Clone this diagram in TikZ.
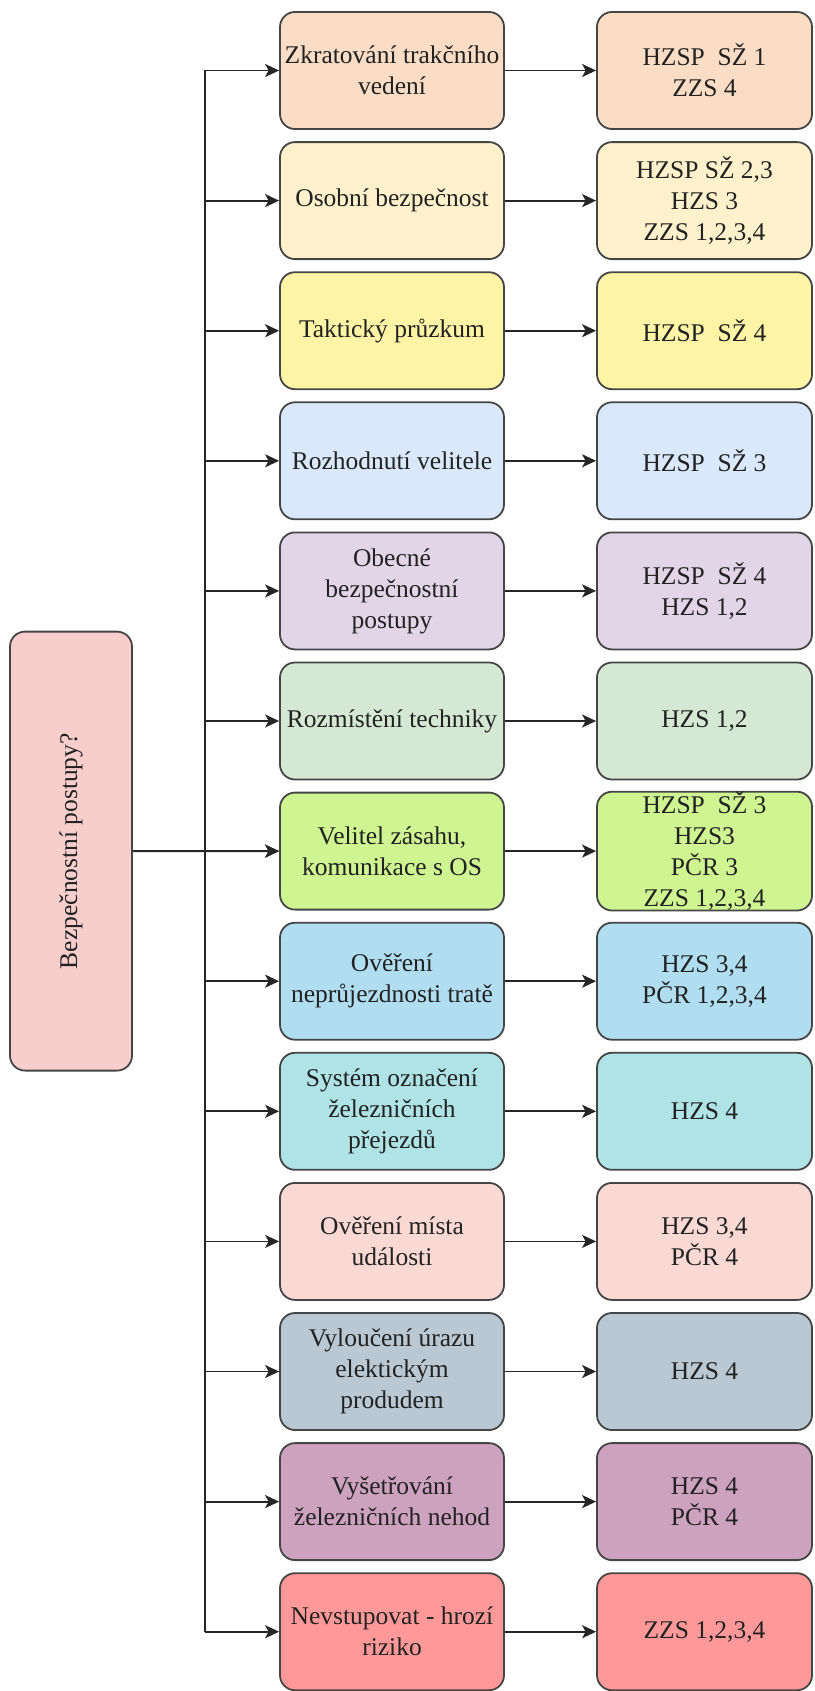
\documentclass[tikz,border=0pt]{standalone}
\usepackage{fontspec}
\setmainfont{Liberation Serif}
\usetikzlibrary{arrows.meta}
\definecolor{c1}{HTML}{FBDCC4}
\definecolor{c2}{HTML}{FFF1CC}
\definecolor{c3}{HTML}{FDF4A6}
\definecolor{c4}{HTML}{DAE8FC}
\definecolor{c5}{HTML}{E1D5E7}
\definecolor{c6}{HTML}{D5E8D4}
\definecolor{c7}{HTML}{CFF593}
\definecolor{c8}{HTML}{B1DDF0}
\definecolor{c9}{HTML}{B0E3E6}
\definecolor{c10}{HTML}{FAD9D5}
\definecolor{c11}{HTML}{BAC8D3}
\definecolor{c12}{HTML}{CDA2BE}
\definecolor{c13}{HTML}{FF9999}
\definecolor{cl}{HTML}{F8CECC}
\definecolor{bord}{HTML}{454545}
\definecolor{txt}{HTML}{222222}
\tikzset{
  box/.style={draw=bord, line width=1.8pt, rounded corners=15pt, inner sep=0pt,
    align=center, text=txt, font=\fontsize{25.5}{31}\selectfont},
  midbox/.style={box, minimum width=224pt, minimum height=117pt},
  rightbox/.style={box, minimum width=215pt, minimum height=117pt},
  conn/.style={line width=1.8pt, draw=black!85},
  arr/.style={conn, -{Stealth[length=14pt, width=13pt, inset=3.5pt]}},
}
\begin{document}
\begin{tikzpicture}[x=1pt, y=-1pt]
\useasboundingbox (0,0) rectangle (814,1691);
\foreach \i/\mt/\rt in {
 1/{Zkratování trakčního\\vedení}/{HZSP\ \ SŽ 1\\ZZS 4},
 2/{Osobní bezpečnost}/{HZSP SŽ 2,3\\HZS 3\\ZZS 1,2,3,4},
 3/{Taktický průzkum}/{HZSP\ \ SŽ 4},
 4/{Rozhodnutí velitele}/{HZSP\ \ SŽ 3},
 5/{Obecné\\bezpečnostní\\postupy}/{HZSP\ \ SŽ 4\\HZS 1,2},
 6/{Rozmístění techniky}/{HZS 1,2},
 7/{Velitel zásahu,\\komunikace s OS}/{HZSP\ \ SŽ 3\\HZS3\\PČR 3\\ZZS 1,2,3,4},
 8/{Ověření\\neprůjezdnosti tratě}/{HZS 3,4\\PČR 1,2,3,4},
 9/{Systém označení\\železničních\\přejezdů}/{HZS 4},
 10/{Ověření místa\\události}/{HZS 3,4\\PČR 4},
 11/{Vyloučení úrazu\\elektickým\\produdem}/{HZS 4},
 12/{Vyšetřování\\železničních nehod}/{HZS 4\\PČR 4},
 13/{Nevstupovat - hrozí\\riziko}/{ZZS 1,2,3,4}}{
  \pgfmathsetmacro{\yy}{70.5+130.1*(\i-1)}
  \node[midbox, fill=c\i] (m\i) at (392,\yy) {\mt};
  \node[rightbox, fill=c\i] (r\i) at (704.5,\yy) {\rt};
  \coordinate (b\i) at (205,\yy);
  \draw[arr] (b\i) -- (m\i.west);
  \draw[arr] (m\i.east) -- (r\i.west);
}
\draw[conn] (b1) -- (b13);
\node[box, fill=cl, minimum width=122pt, minimum height=439pt] (L) at (71,851.1)
  {\rotatebox{90}{Bezpečnostní postupy?}};
\draw[arr] (L.east) -- (m7.west);
\end{tikzpicture}
\end{document}
